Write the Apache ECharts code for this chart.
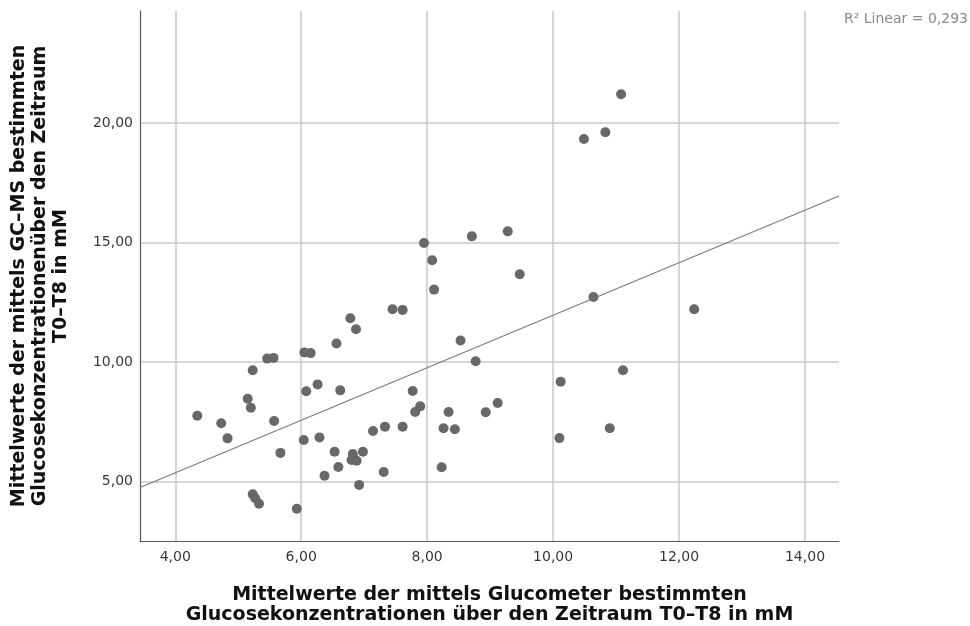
<!DOCTYPE html>
<html>
<head>
<meta charset="utf-8">
<title>Glucometer vs. GC–MS</title>
<script src="https://cdn.jsdelivr.net/npm/echarts@6/dist/echarts.min.js"></script>
<style>
  html, body { margin: 0; padding: 0; background: #ffffff; }
  #chart { width: 970px; height: 626px; }
</style>
</head>
<body>
<div id="chart"></div>
<script>
// Mean glucose per subject, T0–T8 (mM): glucometer (x) vs. GC–MS (y)
const glucometerMeans = [
  4.35, 4.73, 4.83, 5.15, 5.20, 5.23, 5.23, 5.27, 5.33, 5.46,
  5.56, 5.57, 5.67, 5.93, 6.05, 6.15, 6.08, 6.04, 6.26, 6.29,
  6.37, 6.56, 6.62, 6.53, 6.59, 6.78, 6.87, 6.82, 6.80, 6.88,
  6.92, 6.98, 7.14, 7.33, 7.31, 7.45, 7.61, 7.61, 7.77, 7.81,
  7.89, 7.95, 8.08, 8.11, 8.26, 8.23, 8.34, 8.44, 8.53, 8.71,
  8.77, 8.93, 9.12, 9.28, 9.47, 10.10, 10.12, 10.49, 10.83, 10.64,
  10.90, 11.08, 11.11, 12.24
];
const gcmsMeans = [
  7.75, 7.43, 6.80, 8.46, 8.08, 9.65, 4.46, 4.29, 4.06, 10.14,
  10.17, 7.53, 6.19, 3.85, 10.40, 10.37, 8.77, 6.73, 9.06, 6.84,
  5.23, 10.77, 8.81, 6.24, 5.60, 11.83, 11.37, 6.14, 5.89, 5.86,
  4.85, 6.24, 7.11, 7.29, 5.39, 12.21, 12.18, 7.29, 8.78, 7.90,
  8.14, 14.98, 14.26, 13.03, 7.22, 5.59, 7.90, 7.18, 10.90, 15.26,
  10.03, 7.89, 8.28, 15.47, 13.67, 6.81, 9.17, 19.34, 19.62, 12.72,
  7.22, 21.21, 9.65, 12.21
];

// Linear fit (R² = 0,293)
const fitIntercept = 0.96;
const fitSlope = 1.10;
const fitLabel = 'R² Linear = 0,293';

// Axis ranges and labelled tick values
const xRange = [3.44, 14.54];
const yRange = [2.5, 24.7];
const xTicks = [4, 6, 8, 10, 12, 14];
const yTicks = [5, 10, 15, 20];

const xTitle = 'Mittelwerte der mittels Glucometer bestimmten\nGlucosekonzentrationen über den Zeitraum T0–T8 in mM';
const yTitle = 'Mittelwerte der mittels GC–MS bestimmten\nGlucosekonzentrationenüber den Zeitraum\nT0–T8 in mM';

const points = glucometerMeans.map((x, i) => [x, gcmsMeans[i]]);
const fitLine = xRange.map(x => [x, fitIntercept + fitSlope * x]);

const fmt = v => v.toFixed(2).replace('.', ',');

const titleBase = {
  fontFamily: 'DejaVu Sans',
  fontWeight: 'bold',
  fontSize: 19,
  color: '#111111'
};

const tickLabel = {
  fontFamily: 'DejaVu Sans',
  fontSize: 14,
  color: '#383838'
};

const chart = echarts.init(document.getElementById('chart'), null, { renderer: 'canvas' });

chart.setOption({
  animation: false,
  backgroundColor: '#ffffff',
  grid: {
    left: 140, right: 131, top: 11, bottom: 85,
    containLabel: false,
    outerBoundsMode: 'none'
  },
  graphic: [{
    type: 'text',
    right: 2,
    top: 12,
    style: {
      text: fitLabel,
      fontFamily: 'DejaVu Sans',
      fontSize: 14,
      fill: '#8a8a8a'
    }
  }],
  xAxis: {
    type: 'value',
    min: xRange[0],
    max: xRange[1],
    name: xTitle,
    nameLocation: 'middle',
    nameGap: 44,
    nameTextStyle: Object.assign({ lineHeight: 20 }, titleBase),
    axisLine: { show: true, onZero: false, lineStyle: { color: '#555555', width: 1.2 } },
    axisTick: { show: false, customValues: xTicks },
    axisLabel: Object.assign({ customValues: xTicks, formatter: fmt, margin: 9 }, tickLabel),
    splitLine: { show: true, lineStyle: { color: '#c8c8c8', width: 1.5 } }
  },
  yAxis: {
    type: 'value',
    min: yRange[0],
    max: yRange[1],
    name: yTitle,
    nameLocation: 'middle',
    nameRotate: 90,
    nameGap: 68,
    nameTextStyle: Object.assign({ lineHeight: 21 }, titleBase),
    axisLine: { show: true, onZero: false, lineStyle: { color: '#555555', width: 1.2 } },
    axisTick: { show: false, customValues: yTicks },
    axisLabel: Object.assign({ customValues: yTicks, formatter: fmt, margin: 7 }, tickLabel),
    splitLine: { show: true, lineStyle: { color: '#c8c8c8', width: 1.5 } }
  },
  series: [
    {
      name: 'Fit',
      type: 'line',
      data: fitLine,
      symbol: 'none',
      silent: true,
      z: 3,
      lineStyle: { color: '#7a7a7a', width: 1.1 }
    },
    {
      name: 'Werte',
      type: 'scatter',
      data: points,
      symbol: 'circle',
      symbolSize: 10,
      z: 2,
      itemStyle: { color: '#686868', opacity: 1 }
    }
  ]
});
</script>
</body>
</html>
